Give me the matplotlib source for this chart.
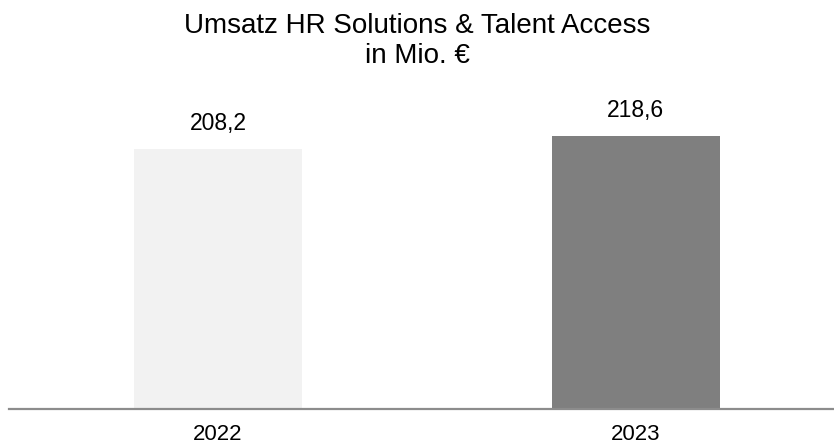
import matplotlib
matplotlib.use("Agg")
import matplotlib.pyplot as plt

plt.rcParams['font.family'] = ['Liberation Sans', 'DejaVu Sans']

# Daten
jahre = ['2022', '2023']
umsatz = [208.2, 218.6]
beschriftung = ['208,2', '218,6']
farben = ['#f2f2f2', '#7f7f7f']

fig = plt.figure(figsize=(8.34, 4.46), dpi=100)
# Achse: links bei x=9px, Basislinie bei y=409px
ax = fig.add_axes([9 / 834, 37 / 446, 825 / 834, 300 / 446])

x = range(len(jahre))
ax.bar(x, umsatz, width=0.402, color=farben)

for xi, wert, txt in zip(x, umsatz, beschriftung):
    ax.annotate(txt, (xi, wert), xytext=(0, 10), textcoords='offset points',
                ha='center', va='bottom', fontsize=16.5)

ax.set_xlim(-0.5, 1.474)
ax.set_ylim(0, 300 / 1.249)

ax.set_xticks(list(x))
ax.set_xticklabels(jahre, fontsize=16)
ax.tick_params(axis='x', length=0, pad=11)
ax.set_yticks([])

for s in ['top', 'right', 'left']:
    ax.spines[s].set_visible(False)
ax.spines['bottom'].set_color('#8c8c8c')
ax.spines['bottom'].set_linewidth(1.6)

fig.text(0.5, 1 - 41 / 446, 'Umsatz HR Solutions & Talent Access\nin Mio. €',
         ha='center', va='center', fontsize=20, linespacing=1.22)

fig.savefig('out.png', dpi=100)
